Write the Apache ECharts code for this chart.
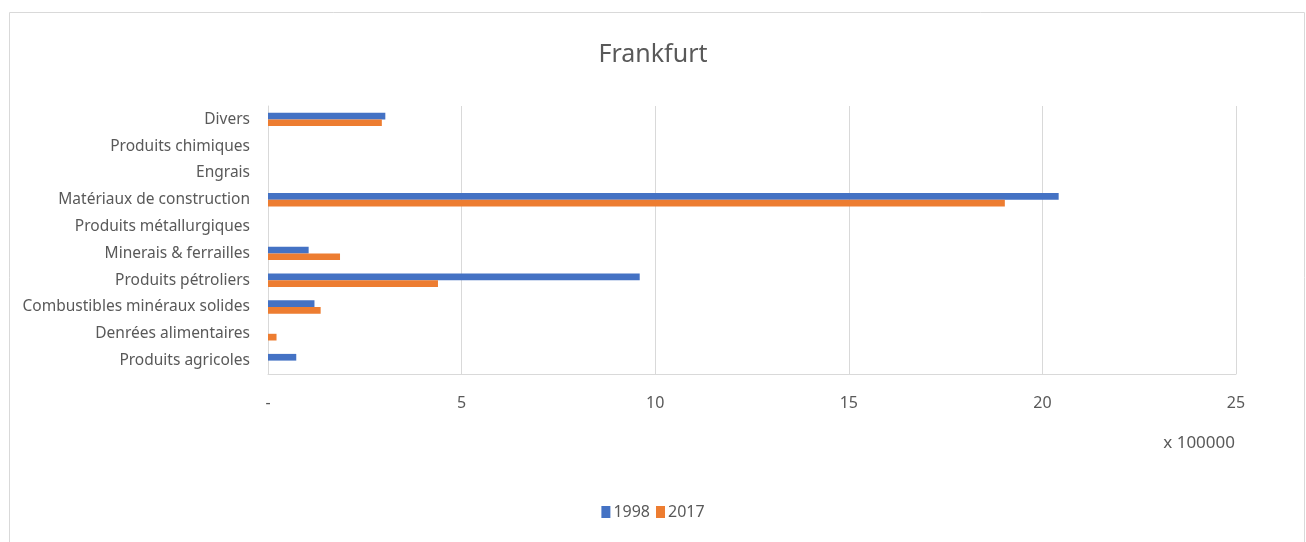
<!DOCTYPE html>
<html>
<head>
<meta charset="utf-8">
<script src="https://cdn.jsdelivr.net/npm/echarts@6/dist/echarts.min.js"></script>
<style>
html, body { margin: 0; padding: 0; background: #fff; }
#box { width: 1306px; height: 542px; }
</style>
</head>
<body>
<div id="box"></div>
<script>
// categories, bottom to top (same order as the value axis goes up)
var categories = [
	'Produits agricoles',
	'Denrées alimentaires',
	'Combustibles minéraux solides',
	'Produits pétroliers',
	'Minerais & ferrailles',
	'Produits métallurgiques',
	'Matériaux de construction',
	'Engrais',
	'Produits chimiques',
	'Divers'
];
// values in units of 100000
var values1998 = [0.73, 0, 1.2, 9.6, 1.05, 0, 20.42, 0, 0, 3.03];
var values2017 = [0, 0.22, 1.36, 4.39, 1.86, 0, 19.03, 0, 0, 2.94];
var xTicks = { min: 0, max: 25, step: 5 };

var font = '"Noto Sans", sans-serif';
var grey = '#595959';

var mychart = echarts.init(document.getElementById('box'));
var option = {
	animation: false,
	title: {
		text: 'Frankfurt',
		left: 'center',
		top: 37,
		textStyle: { fontFamily: font, fontSize: 25, fontWeight: 'normal', color: grey }
	},
	legend: {
		data: ['1998', '2017'],
		bottom: 17,
		left: 'center',
		itemWidth: 9,
		itemHeight: 12,
		itemGap: 6,
		icon: 'rect',
		textStyle: { fontFamily: font, fontSize: 16, color: grey, padding: [0, 0, 0, -2] }
	},
	grid: {
		left: 268,
		right: 70,
		top: 106,
		height: 268,
		outerBoundsMode: 'none',
		containLabel: false
	},
	xAxis: {
		type: 'value',
		min: xTicks.min,
		max: xTicks.max,
		interval: xTicks.step,
		axisLine: { show: true, lineStyle: { color: '#d9d9d9' } },
		axisTick: { show: false },
		splitLine: { lineStyle: { color: '#d9d9d9', width: 1 } },
		axisLabel: {
			margin: 21,
			fontFamily: font,
			fontSize: 16,
			color: grey,
			formatter: function (v) { return v === 0 ? '-' : v; }
		}
	},
	yAxis: {
		type: 'category',
		data: categories,
		axisLine: { show: true, lineStyle: { color: '#d9d9d9' } },
		axisTick: { show: false },
		axisLabel: { margin: 18, fontFamily: font, fontSize: 15.5, color: grey }
	},
	graphic: [
		{
			type: 'rect',
			shape: { x: 9.5, y: 12.5, width: 1295, height: 600 },
			style: { fill: 'none', stroke: '#d9d9d9', lineWidth: 1 },
			silent: true
		},
		{
			type: 'text',
			right: 71,
			top: 435,
			style: { text: 'x 100000', font: '17px ' + font, fill: grey }
		}
	],
	series: [
		{
			name: '1998',
			type: 'bar',
			barGap: '0%',
			barCategoryGap: '50%',
			itemStyle: { color: '#4472c4' },
			data: values1998
		},
		{
			name: '2017',
			type: 'bar',
			barGap: '0%',
			barCategoryGap: '50%',
			itemStyle: { color: '#ed7d31' },
			data: values2017
		}
	]
};
mychart.setOption(option);
</script>
</body>
</html>
